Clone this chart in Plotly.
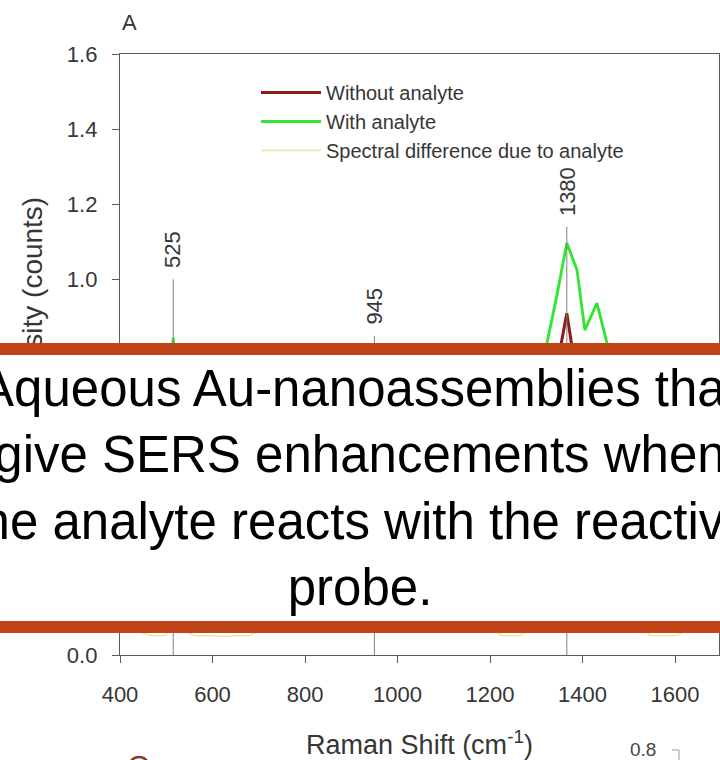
import plotly.graph_objects as go

# ---------------- data ----------------
wn_without = [400, 500, 515, 530, 700, 951, 1200, 1300, 1340, 1354, 1366, 1376, 1395, 1431, 1500, 1695]
int_without = [0.30, 0.45, 0.70, 0.45, 0.35, 0.50, 0.35, 0.45, 0.62, 0.83, 0.91, 0.83, 0.62, 0.70, 0.40, 0.32]

wn_with = [400, 460, 500, 515, 530, 580, 700, 850, 951, 1050, 1200, 1290, 1323, 1345, 1366, 1388,
           1405, 1418, 1431, 1453, 1475, 1550, 1650, 1695]
int_with = [0.35, 0.40, 0.55, 0.845, 0.55, 0.45, 0.42, 0.40, 0.60, 0.40, 0.42, 0.55, 0.83, 0.96, 1.097, 1.025,
            0.865, 0.90, 0.937, 0.83, 0.62, 0.45, 0.40, 0.38]

wn_diff = [400, 465, 500, 515, 530, 560, 620, 680, 720, 800, 900, 951, 1000, 1100, 1200, 1225, 1265,
           1300, 1366, 1400, 1431, 1470, 1530, 1545, 1605, 1640, 1695]
int_diff = [0.08, 0.052, 0.052, 0.12, 0.07, 0.052, 0.05, 0.052, 0.08, 0.07, 0.08, 0.10, 0.07, 0.08, 0.07, 0.052,
            0.052, 0.08, 0.19, 0.10, 0.24, 0.12, 0.08, 0.052, 0.052, 0.08, 0.07]

peak_labels = ["525", "945", "1380"]
peak_pos = [515, 950, 1366]
peak_top = [1.0, 0.85, 1.14]

series_names = ["Without analyte", "With analyte", "Spectral difference due to analyte"]
x_ticks = [400, 600, 800, 1000, 1200, 1400, 1600]
y_ticks = [0.0, 0.2, 0.4, 0.6, 0.8, 1.0, 1.2, 1.4, 1.6]

banner_lines = ["Aqueous Au-nanoassemblies that", "give SERS enhancements when",
                "the analyte reacts with the reactive", "probe."]

# ---------------- layout helpers ----------------
W, H = 720, 760
L, R, T, B = 120, 1, 54, 105
PW, PH = W - L - R, H - T - B


def px(xp):
    return (xp - L) / PW


def py(yp):
    return (H - B - yp) / PH


FONT = "Arial, Liberation Sans, sans-serif"
TXT = "#363636"
AX = "#5a5a5a"

fig = go.Figure()
fig.add_trace(go.Scatter(x=wn_without, y=int_without, mode="lines", name=series_names[0],
                         line=dict(color="#8a1c14", width=3)))
fig.add_trace(go.Scatter(x=wn_with, y=int_with, mode="lines", name=series_names[1],
                         line=dict(color="#2ee62e", width=2.8)))
fig.add_trace(go.Scatter(x=wn_diff, y=int_diff, mode="lines", name=series_names[2],
                         line=dict(color="#ece59a", width=1.4)))

for lab, xp, top in zip(peak_labels, peak_pos, peak_top):
    fig.add_trace(go.Scatter(x=[xp, xp], y=[0, top], mode="lines", showlegend=False,
                             line=dict(color="#808080", width=1), hoverinfo="skip"))
    fig.add_annotation(x=xp, y=top, xref="x", yref="y", text=lab, textangle=-90,
                       showarrow=False, yanchor="bottom", xanchor="center", yshift=9,
                       font=dict(family=FONT, size=22, color=TXT))

fig.update_xaxes(range=[400, 1695], tickvals=x_ticks, ticks="outside", ticklen=7, tickwidth=1.2,
                 tickcolor=AX, showline=True, linecolor=AX, linewidth=1.4, mirror=True,
                 showgrid=False, zeroline=False, ticklabelstandoff=12,
                 tickfont=dict(family=FONT, size=22, color=TXT),
                 title=dict(text="Raman Shift (cm<sup>-1</sup>)", standoff=29,
                            font=dict(family=FONT, size=27, color=TXT)),
                 automargin=False)
fig.update_yaxes(range=[0, 1.6], tickvals=y_ticks, tickformat=".1f", ticks="outside", ticklen=7,
                 tickwidth=1.2, tickcolor=AX, showline=True, linecolor=AX, linewidth=1.4, mirror=True,
                 showgrid=False, zeroline=False, ticklabelstandoff=10,
                 tickfont=dict(family=FONT, size=22, color=TXT), automargin=False)

# panel letter
fig.add_annotation(x=px(120), y=py(22), xref="paper", yref="paper", text="A", showarrow=False,
                   xanchor="left", yanchor="middle", font=dict(family=FONT, size=22, color=TXT))
# y axis title (placed manually so the banner hides its lower part)
fig.add_annotation(x=px(32), y=py(304), xref="paper", yref="paper", text="Intensity (counts)",
                   textangle=-90, showarrow=False, xanchor="center", yanchor="middle",
                   font=dict(family=FONT, size=28, color=TXT))

# fragments of the next panel at the bottom edge
fig.add_annotation(x=px(643), y=py(749), xref="paper", yref="paper", text="0.8", showarrow=False,
                   xanchor="center", yanchor="middle", font=dict(family=FONT, size=19, color="#444"))
fig.add_shape(type="line", xref="paper", yref="paper", x0=px(672), x1=px(679), y0=py(750), y1=py(750),
              line=dict(color="#aaaaaa", width=1.2))
fig.add_shape(type="line", xref="paper", yref="paper", x0=px(679), x1=px(679), y0=py(750), y1=py(762),
              line=dict(color="#aaaaaa", width=1.2))
fig.add_shape(type="circle", xref="paper", yref="paper", x0=px(129), x1=px(149), y0=py(777), y1=py(757),
              line=dict(color="#8b3a2a", width=2.5), fillcolor="white")

# banner overlay (white box with orange top/bottom bars)
fig.add_annotation(x=px(360), y=py(488), xref="paper", yref="paper",
                   text="<br>".join(banner_lines), showarrow=False, xanchor="center", yanchor="middle",
                   align="center", valign="middle", width=900, height=266, borderpad=0,
                   borderwidth=12, bordercolor="#bf4417", bgcolor="white",
                   font=dict(family=FONT, size=51, color="black"))

fig.update_layout(width=W, height=H, margin=dict(l=L, r=R, t=T, b=B),
                  plot_bgcolor="white", paper_bgcolor="white",
                  legend=dict(x=px(256), y=py(73), xanchor="left", yanchor="top",
                              bgcolor="rgba(0,0,0,0)", itemwidth=60,
                              font=dict(family=FONT, size=20, color=TXT)))

fig.write_html("out.html")
